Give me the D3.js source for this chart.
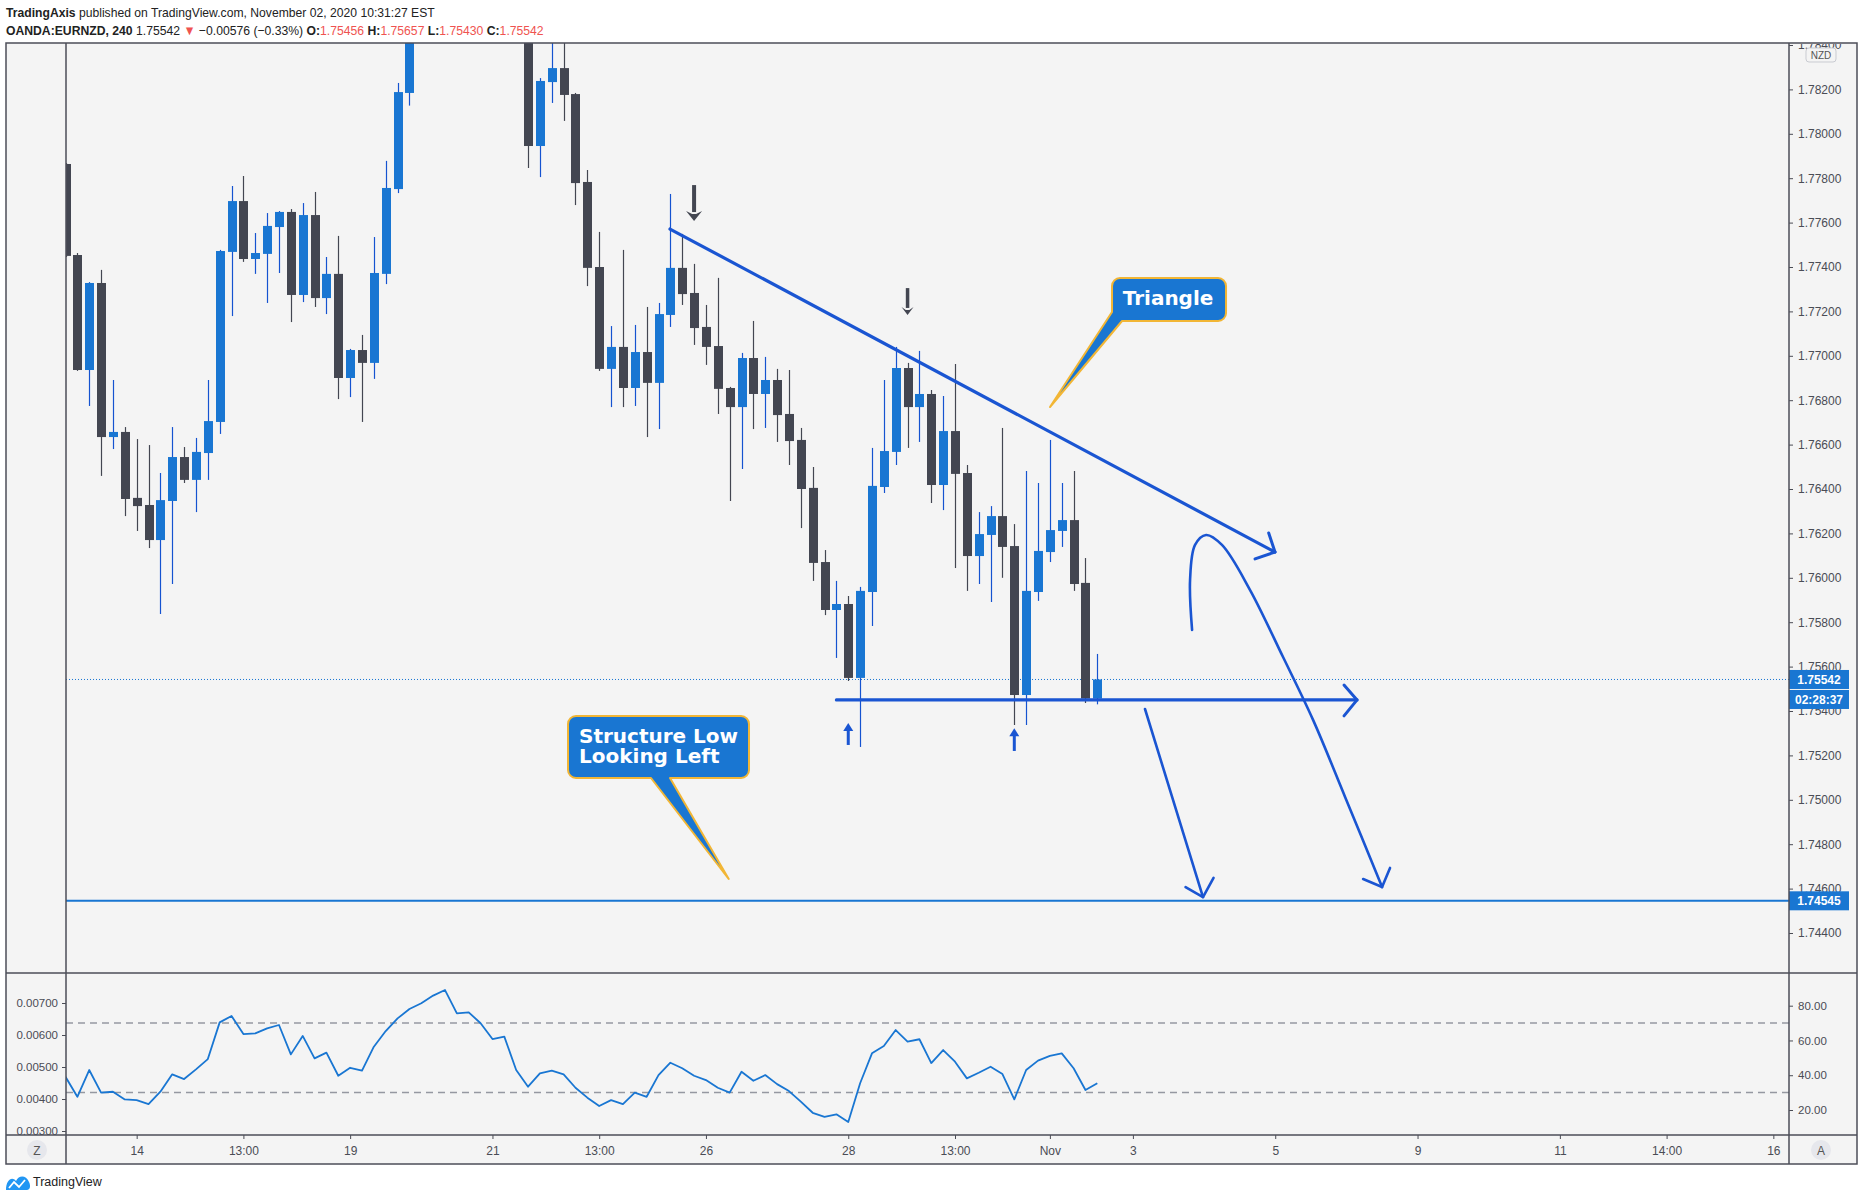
<!DOCTYPE html>
<html><head><meta charset="utf-8">
<script src="https://cdn.jsdelivr.net/npm/d3@7"></script>
<style>
html,body{margin:0;padding:0;background:#fff;}
svg{display:block;font-family:"Liberation Sans",Arial,sans-serif;}
</style></head><body>
<svg id="c" width="1860" height="1201"></svg>
<script>
// ---------------- DATA ----------------
const opens=[1.77864,1.77454,1.76936,1.77328,1.76634,1.76657,1.76360,1.76328,1.76170,1.76346,
1.76544,1.76441,1.76562,1.76702,1.77468,1.77697,1.77436,1.77459,1.77580,1.77648,
1.77274,1.77634,1.77260,1.77369,1.76900,1.77026,1.76968,1.77369,1.77751,1.78184,
1.7852,1.7875,1.7890,1.7905,1.7893,1.7898,1.7882,1.7868,1.7871,1.7855,
1.77945,1.78233,1.78296,1.78179,1.77783,1.77400,1.76941,1.77040,1.76855,1.77017,
1.76878,1.77184,1.77396,1.77283,1.77130,1.77044,1.76855,1.76769,1.76990,1.76828,
1.76891,1.76738,1.76621,1.76405,1.76071,1.75855,1.75882,1.75549,1.75936,1.76409,
1.76567,1.76945,1.76769,1.76828,1.76418,1.76661,1.76472,1.76098,1.76193,1.76278,
1.76143,1.75472,1.75936,1.76116,1.76211,1.76260,1.75977,1.75456];
const highs=[1.77869,1.77463,1.77332,1.77387,1.76891,1.76679,1.76625,1.76598,1.76472,1.76679,
1.76589,1.76630,1.76891,1.77477,1.77765,1.77810,1.77553,1.77643,1.77652,1.77661,
1.77688,1.77738,1.77445,1.77540,1.77031,1.77094,1.77535,1.77878,1.78229,1.7858,
1.7880,1.7898,1.7912,1.7915,1.7906,1.7903,1.7890,1.7879,1.7876,1.7860,
1.78251,1.7845,1.7847,1.78184,1.77837,1.77558,1.77134,1.77477,1.77139,1.77220,
1.77238,1.77729,1.77549,1.77414,1.77229,1.77351,1.76860,1.77013,1.77157,1.76995,
1.76941,1.76936,1.76675,1.76499,1.76125,1.75986,1.75918,1.75959,1.76585,1.76891,
1.77040,1.76968,1.77022,1.76846,1.76819,1.76963,1.76508,1.76296,1.76323,1.76675,
1.76242,1.76481,1.76427,1.76621,1.76427,1.76481,1.76089,1.75657];
const lows=[1.77445,1.76932,1.76774,1.76459,1.76580,1.76278,1.76211,1.76134,1.75837,1.75972,
1.76427,1.76296,1.76441,1.76648,1.77179,1.77423,1.77369,1.77238,1.77373,1.77152,
1.77242,1.77220,1.77188,1.76805,1.76814,1.76702,1.76896,1.77323,1.77733,1.78127,
1.7848,1.7866,1.7884,1.7886,1.7885,1.7874,1.7860,1.7858,1.7846,1.77846,
1.77805,1.78139,1.78058,1.77679,1.77314,1.76932,1.76769,1.76769,1.76774,1.76634,
1.76670,1.77130,1.77229,1.77049,1.76959,1.76738,1.76346,1.76490,1.76670,1.76675,
1.76612,1.76508,1.76224,1.75986,1.75832,1.75639,1.75535,1.75238,1.75783,1.76382,
1.76508,1.76585,1.76612,1.76337,1.76305,1.76044,1.75941,1.75972,1.75891,1.76000,
1.75337,1.75337,1.75896,1.76071,1.76139,1.75941,1.75436,1.75430];
const closes=[1.77450,1.76936,1.77328,1.76634,1.76657,1.76355,1.76323,1.76170,1.76350,1.76544,
1.76441,1.76567,1.76706,1.77472,1.77697,1.77436,1.77463,1.77585,1.77648,1.77274,
1.77634,1.77260,1.77369,1.76900,1.77026,1.76968,1.77373,1.77756,1.78188,1.7852,
1.7875,1.7890,1.7905,1.7893,1.7898,1.7882,1.7868,1.7871,1.7855,1.77945,
1.78238,1.78296,1.78175,1.77778,1.77396,1.76941,1.77040,1.76855,1.77017,1.76878,
1.77188,1.77396,1.77278,1.77125,1.77040,1.76851,1.76769,1.76990,1.76828,1.76891,
1.76733,1.76616,1.76400,1.76067,1.75855,1.75882,1.75549,1.75941,1.76414,1.76571,
1.76945,1.76769,1.76828,1.76418,1.76661,1.76468,1.76098,1.76197,1.76278,1.76139,
1.75472,1.75941,1.76121,1.76215,1.76260,1.75972,1.75456,1.75542];
const rsi=[39.1,27.6,43.0,30.0,30.5,26.1,25.7,23.4,30.5,40.5,
37.8,43.4,49.3,70.4,74.1,63.7,64.1,67.0,68.9,52.0,
62.6,49.7,53.0,39.7,44.3,42.6,56.4,65.4,72.7,78.1,
81.4,85.8,89.0,75.6,76.2,69.9,60.8,62.2,43.0,33.4,
41.1,42.6,40.5,32.8,27.1,22.3,25.7,23.4,30.0,27.6,
40.1,47.2,44.0,39.7,37.2,32.8,30.0,42.0,36.8,40.1,
34.9,30.9,24.8,18.4,16.1,17.5,13.1,35.4,52.6,56.8,
66.0,59.3,60.7,47.0,54.5,47.8,38.2,41.4,44.9,40.7,
26.1,43.0,48.4,51.1,52.6,44.0,31.5,35.4];
const priceTicks=[1.744,1.746,1.748,1.750,1.752,1.754,1.756,1.758,1.760,1.762,1.764,1.766,1.768,1.770,1.772,1.774,1.776,1.778,1.780,1.782,1.784];
const rsiTicks=[20,40,60,80];
const rsiLevels=[30,70];
const leftTicks=[0.003,0.004,0.005,0.006,0.007];
const timeIdx=[6,15,24,36,45,54,66,75,83,90,102,114,126,135,144];
const timeLabels=["14","13:00","19","21","13:00","26","28","13:00","Nov","3","5","9","11","14:00","16"];
const lastPrice=1.75542, structureLow=1.74545, countdown="02:28:37";

// drawings in (bar index, price)
const trendLine=[[50.97,1.77571],[101.98,1.76116]];
const trendHead=[[101.45,1.76202],[101.98,1.76116],[100.30,1.76085]];
const supportLine=[[65,1.75450],[108.9,1.75450]];
const supportHead=[[107.8,1.75517],[108.9,1.75450],[107.8,1.75378]];
const dropA=[[91.02,1.75409],[95.91,1.74562]];
const dropAHead=[[94.44,1.74607],[95.91,1.74562],[96.80,1.74648]];
const curveB=[[94.99,1.75765],[94.82,1.75990],[95.24,1.76148],[96.17,1.76193],[97.51,1.76148],[99.88,1.75945],[102.66,1.75643],[105.19,1.75360],[107.89,1.75013],[111.01,1.74607]];
const curveBHead=[[109.41,1.74643],[111.01,1.74607],[111.68,1.74693]];
const upArrows=[[66,1.75247,1.75346],[80,1.75220,1.75322]];
const downArrows=[[53,1.77769,1.77607,16,10,4],[71,1.77305,1.77184,12,8,3.5]];

// ---------------- LAYOUT ----------------
const svg=d3.select("#c");
const FL=6, FR=1857, FT=43, PL=66, PR=1789, MB=973, RB=1135, AB=1164;
const x=d3.scaleLinear().domain([0,144]).range([65.5,65.5+144*11.86]);
const y=d3.scaleLinear().domain([1.744,1.784]).range([933,45]);
const yR=d3.scaleLinear().domain([20,80]).range([1110,1005.7]);
const yL=d3.scaleLinear().domain([0.003,0.007]).range([1131,1003]);

const frameC="#4c4e58", txtC="#4a4c55", upC="#1976d2", upW="#1553d0", dnC="#434651", drawC="#1a55d2";

svg.append("rect").attr("x",FL).attr("y",FT).attr("width",FR-FL).attr("height",AB-FT).attr("fill","#f4f4f4");

const defs=svg.append("defs");
defs.append("clipPath").attr("id","cm").append("rect").attr("x",PL).attr("y",FT).attr("width",PR-PL).attr("height",MB-FT);
defs.append("clipPath").attr("id","cr").append("rect").attr("x",PL).attr("y",MB).attr("width",PR-PL).attr("height",RB-MB);
defs.append("clipPath").attr("id","ca").append("rect").attr("x",PR).attr("y",FT+1).attr("width",FR-PR).attr("height",MB-FT-1);

// ---------------- HEADER ----------------
function fitLine(yb, target, parts){
  const g=svg.append("g");
  const t=g.append("text").attr("x",0).attr("y",0).attr("font-size",13).attr("fill","#222");
  parts.forEach(p=>{t.append("tspan").text(p[0]).attr("font-weight",p[1]?"bold":null).attr("fill",p[2]||null);});
  const w=t.node().getComputedTextLength();
  g.attr("transform",`translate(${FL},${yb}) scale(${target/w},1)`);
}
const red="#ef5350";
fitLine(17,429,[["TradingAxis",1],[" published on TradingView.com, November 02, 2020 10:31:27 EST"]]);
fitLine(35,538,[["OANDA:EURNZD, 240",1],["  1.75542 "],["\u25BC",0,red],[" \u22120.00576 (\u22120.33%) "],["O:",1],["1.75456",0,red],[" H:",1],["1.75657",0,red],[" L:",1],["1.75430",0,red],[" C:",1],["1.75542",0,red]]);

// ---------------- MAIN PANE ----------------
const main=svg.append("g").attr("clip-path","url(#cm)");
main.append("line").attr("x1",PL).attr("x2",PR).attr("y1",y(lastPrice)).attr("y2",y(lastPrice))
  .attr("stroke",upC).attr("stroke-width",1).attr("stroke-dasharray","1,2");
main.append("line").attr("x1",PL).attr("x2",PR).attr("y1",y(structureLow)).attr("y2",y(structureLow))
  .attr("stroke",upC).attr("stroke-width",2);

// candles
const idx=d3.range(opens.length);
const cg=main.append("g");
cg.selectAll("line.w").data(idx).join("line").attr("class","w")
  .attr("x1",i=>Math.round(x(i))+0.5).attr("x2",i=>Math.round(x(i))+0.5)
  .attr("y1",i=>y(highs[i])).attr("y2",i=>y(lows[i]))
  .attr("stroke",i=>closes[i]>=opens[i]?upW:dnC).attr("stroke-width",1.2);
cg.selectAll("rect.b").data(idx).join("rect").attr("class","b")
  .attr("x",i=>Math.round(x(i))-4).attr("width",9)
  .attr("y",i=>y(Math.max(opens[i],closes[i])))
  .attr("height",i=>Math.max(1.5,Math.abs(y(opens[i])-y(closes[i]))))
  .attr("fill",i=>closes[i]>=opens[i]?upC:dnC);

// drawings
function stroke(pts,w,curve){
  const l=d3.line().x(d=>x(d[0])).y(d=>y(d[1]));
  if(curve) l.curve(d3.curveCatmullRom.alpha(0.5));
  main.append("path").attr("d",l(pts)).attr("fill","none").attr("stroke",drawC)
    .attr("stroke-width",w).attr("stroke-linecap","round").attr("stroke-linejoin","round");
}
stroke(trendLine,3.2); stroke(trendHead,3);
stroke(supportLine,3.2); stroke(supportHead,3);
stroke(dropA,2.6); stroke(dropAHead,2.6);
stroke(curveB,2.6,true); stroke(curveBHead,2.6);

upArrows.forEach(a=>{
  const cx=x(a[0]), yb=y(a[1]), yt=y(a[2]);
  main.append("line").attr("x1",cx).attr("x2",cx).attr("y1",yt+6).attr("y2",yb).attr("stroke",drawC).attr("stroke-width",3);
  main.append("path").attr("d",`M${cx},${yt}L${cx+5},${yt+8}L${cx-5},${yt+8}Z`).attr("fill",drawC);
});
downArrows.forEach(a=>{
  const cx=x(a[0]), yt=y(a[1]), yb=y(a[2]), hw=a[3]/2, hh=a[4], sw=a[5];
  main.append("line").attr("x1",cx).attr("x2",cx).attr("y1",yt).attr("y2",yb-hh+1).attr("stroke",dnC).attr("stroke-width",sw);
  main.append("path").attr("d",`M${cx},${yb}L${cx+hw},${yb-hh}L${cx+sw/2},${yb-hh+3}L${cx-sw/2},${yb-hh+3}L${cx-hw},${yb-hh}Z`).attr("fill",dnC);
});

// callouts
function callout(cfg){
  const x0=x(cfg.i), y0=y(cfg.p), x1=x0+cfg.w, y1=y0+cfg.h, r=8;
  const tx=x(cfg.tip[0]), ty=y(cfg.tip[1]);
  let d=`M${x0+r},${y0}H${x1-r}A${r},${r} 0 0 1 ${x1},${y0+r}V${y1-r}A${r},${r} 0 0 1 ${x1-r},${y1}`;
  if(cfg.tail==="corner"){
    d+=`H${x0+cfg.a}L${tx},${ty}L${x0},${y0+cfg.b}V${y0+r}A${r},${r} 0 0 1 ${x0+r},${y0}Z`;
  } else {
    d+=`H${x0+cfg.b}L${tx},${ty}L${x0+cfg.a},${y1}H${x0+r}A${r},${r} 0 0 1 ${x0},${y1-r}V${y0+r}A${r},${r} 0 0 1 ${x0+r},${y0}Z`;
  }
  main.append("path").attr("d",d).attr("fill",upC).attr("stroke","#f2b635").attr("stroke-width",2).attr("stroke-linejoin","round");
  cfg.lines.forEach((s,k)=>{
    main.append("text").attr("x",x0+cfg.tx).attr("y",y0+cfg.ty+k*20.6).text(s)
      .attr("fill","#fff").attr("font-family","'DejaVu Sans',Verdana,sans-serif").attr("font-weight","bold").attr("font-size",20);
  });
}
callout({i:88.24,p:1.773505,w:114,h:43,tip:[83.01,1.767694],tail:"corner",a:10,b:34,lines:["Triangle"],tx:10.7,ty:27});
callout({i:42.37,p:1.753775,w:181,h:62,tip:[55.92,1.746432],tail:"bottom",a:83,b:102,lines:["Structure Low","Looking Left"],tx:11,ty:26.7});

// ---------------- PRICE AXIS ----------------
const pa=svg.append("g").attr("clip-path","url(#ca)").append("g").attr("transform",`translate(${PR},0)`)
  .call(d3.axisRight(y).tickValues(priceTicks).tickFormat(d3.format(".5f")).tickSize(4).tickPadding(5));
pa.select(".domain").remove();
pa.selectAll("line").attr("stroke",txtC);
pa.selectAll("text").attr("fill",txtC).attr("font-size",12).attr("font-family","'Liberation Sans',Arial,sans-serif");

// NZD badge
svg.append("rect").attr("x",1806).attr("y",48).attr("width",30).attr("height",14).attr("rx",3).attr("fill","#f4f4f4").attr("stroke","#c9cbd1");
svg.append("text").attr("x",1821).attr("y",58.5).attr("text-anchor","middle").attr("font-size",10).attr("fill","#555").text("NZD");

function tag(v,label,dy){
  const cy=y(v)+dy;
  svg.append("rect").attr("x",PR).attr("y",cy-9.5).attr("width",60).attr("height",19).attr("fill",upC);
  svg.append("text").attr("x",PR+30).attr("y",cy+4.3).attr("text-anchor","middle").attr("fill","#fff")
    .attr("font-weight","bold").attr("font-size",12).text(label);
}
tag(lastPrice,d3.format(".5f")(lastPrice),0);
tag(lastPrice,countdown,20);
tag(structureLow,d3.format(".5f")(structureLow),0);

// ---------------- RSI PANE ----------------
const rp=svg.append("g").attr("clip-path","url(#cr)");
rsiLevels.forEach(v=>{
  rp.append("line").attr("x1",PL).attr("x2",PR).attr("y1",yR(v)).attr("y2",yR(v))
    .attr("stroke","#9598a1").attr("stroke-width",1.5).attr("stroke-dasharray","7,5");
});
rp.append("path").attr("d",d3.line().x((d,i)=>x(i)).y(d=>yR(d))(rsi))
  .attr("fill","none").attr("stroke",upC).attr("stroke-width",1.8).attr("stroke-linejoin","round");

const ra=svg.append("g").attr("transform",`translate(${PR},0)`)
  .call(d3.axisRight(yR).tickValues(rsiTicks).tickFormat(d3.format(".2f")).tickSize(4).tickPadding(5));
const la=svg.append("g").attr("transform",`translate(${PL},0)`)
  .call(d3.axisLeft(yL).tickValues(leftTicks).tickFormat(d3.format(".5f")).tickSize(4).tickPadding(4));
[ra,la].forEach(a=>{a.select(".domain").remove();a.selectAll("line").attr("stroke",txtC);
  a.selectAll("text").attr("fill",txtC).attr("font-size",11.5).attr("font-family","'Liberation Sans',Arial,sans-serif");});

// ---------------- TIME AXIS ----------------
const ta=svg.append("g").attr("transform",`translate(0,${RB})`)
  .call(d3.axisBottom(x).tickValues(timeIdx).tickFormat((d,i)=>timeLabels[i]).tickSize(4).tickPadding(7));
ta.select(".domain").remove();
ta.selectAll("line").attr("stroke",txtC);
ta.selectAll("text").attr("fill",txtC).attr("font-size",12).attr("font-family","'Liberation Sans',Arial,sans-serif");

[[37,"Z"],[1821,"A"]].forEach(c=>{
  svg.append("circle").attr("cx",c[0]).attr("cy",1150).attr("r",10).attr("fill","#e6e7ec");
  svg.append("text").attr("x",c[0]).attr("y",1154.5).attr("text-anchor","middle").attr("font-size",12).attr("fill","#555").text(c[1]);
});

// ---------------- FRAME ----------------
const fr=svg.append("g").attr("stroke",frameC).attr("stroke-width",1.5).attr("fill","none");
fr.append("rect").attr("x",FL).attr("y",FT).attr("width",FR-FL).attr("height",AB-FT);
fr.append("line").attr("x1",PL).attr("x2",PL).attr("y1",FT).attr("y2",AB);
fr.append("line").attr("x1",PR).attr("x2",PR).attr("y1",FT).attr("y2",AB);
fr.append("line").attr("x1",FL).attr("x2",FR).attr("y1",MB).attr("y2",MB);
fr.append("line").attr("x1",FL).attr("x2",FR).attr("y1",RB).attr("y2",RB);

// ---------------- FOOTER ----------------
svg.append("path").attr("d","M6,1190 C6,1180 12,1176 16,1181 C19,1175 26,1175 29,1182 C31,1186 30,1190 27,1190 Z").attr("fill","#2196f3");
svg.append("path").attr("d","M9,1188 L14,1182 L19,1187 L25,1180").attr("fill","none").attr("stroke","#fff").attr("stroke-width",1.8);
svg.append("text").attr("x",33).attr("y",1186).attr("font-size",12.5).attr("fill","#222").text("TradingView");
</script>
</body></html>
